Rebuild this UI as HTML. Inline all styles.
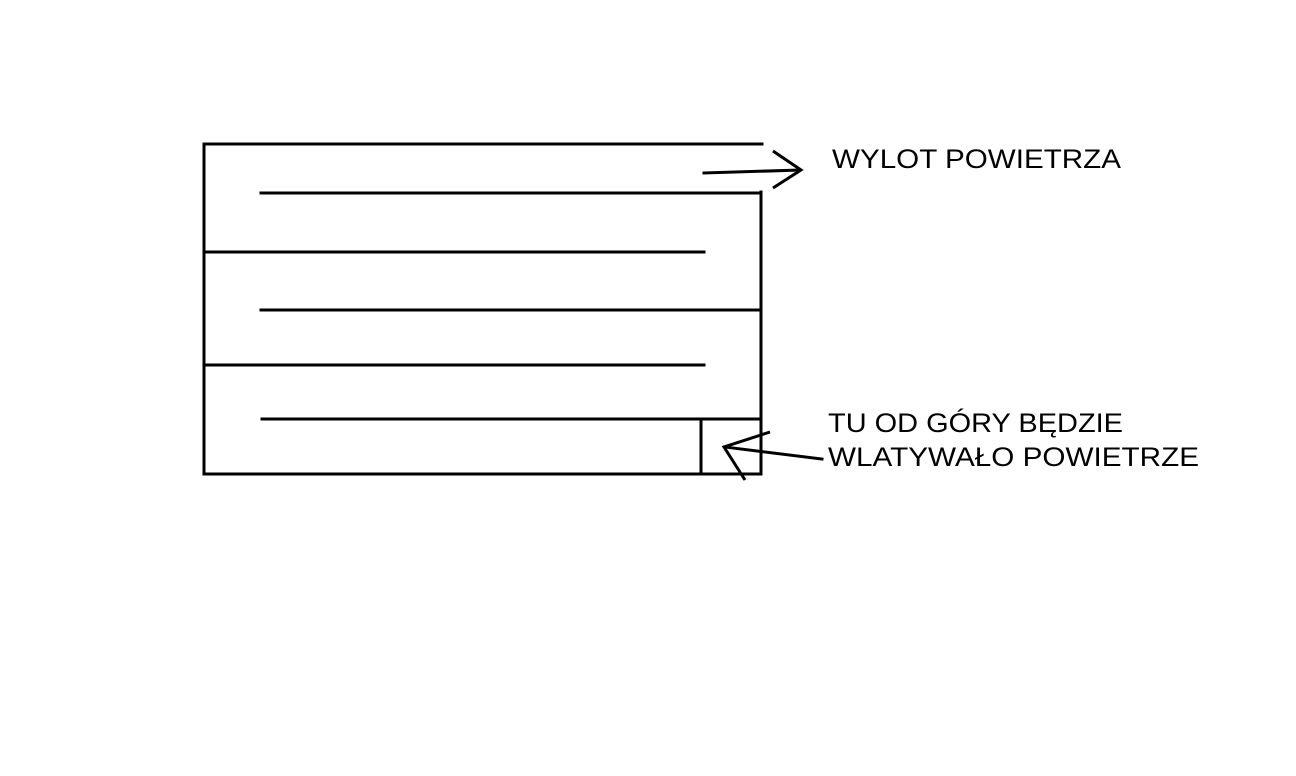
<!DOCTYPE html>
<html><head><meta charset="utf-8"><style>html,body{margin:0;padding:0;background:#fff}svg{display:block}</style></head>
<body>
<svg width="1296" height="776" xmlns="http://www.w3.org/2000/svg">
<g stroke="#000" stroke-width="3" fill="none" stroke-linecap="square">
<polyline points="761,192 761,474 204,474 204,144 762,144"/>
<line x1="261" y1="193" x2="760" y2="193"/>
<line x1="206" y1="252" x2="704" y2="252"/>
<line x1="261" y1="310" x2="759" y2="310"/>
<line x1="206" y1="365" x2="704" y2="365"/>
<line x1="262" y1="419" x2="760" y2="419"/>
<line x1="701" y1="419" x2="701" y2="474"/>
<line x1="704" y1="173" x2="800" y2="170"/>
<polyline points="773,151 801,170 773,188" stroke-linecap="butt"/>
<line x1="822" y1="459" x2="725" y2="447"/>
<polyline points="770,432 724,447 745,480" stroke-linecap="butt"/>
</g>
<g font-family="Liberation Sans, Arial, sans-serif" font-size="27" fill="#000">
<text x="832" y="168" textLength="289" lengthAdjust="spacingAndGlyphs">WYLOT POWIETRZA</text>
<text x="828" y="432" textLength="295" lengthAdjust="spacingAndGlyphs">TU OD GÓRY BĘDZIE</text>
<text x="828" y="466" textLength="371" lengthAdjust="spacingAndGlyphs">WLATYWAŁO POWIETRZE</text>
</g>
</svg>
</body></html>
